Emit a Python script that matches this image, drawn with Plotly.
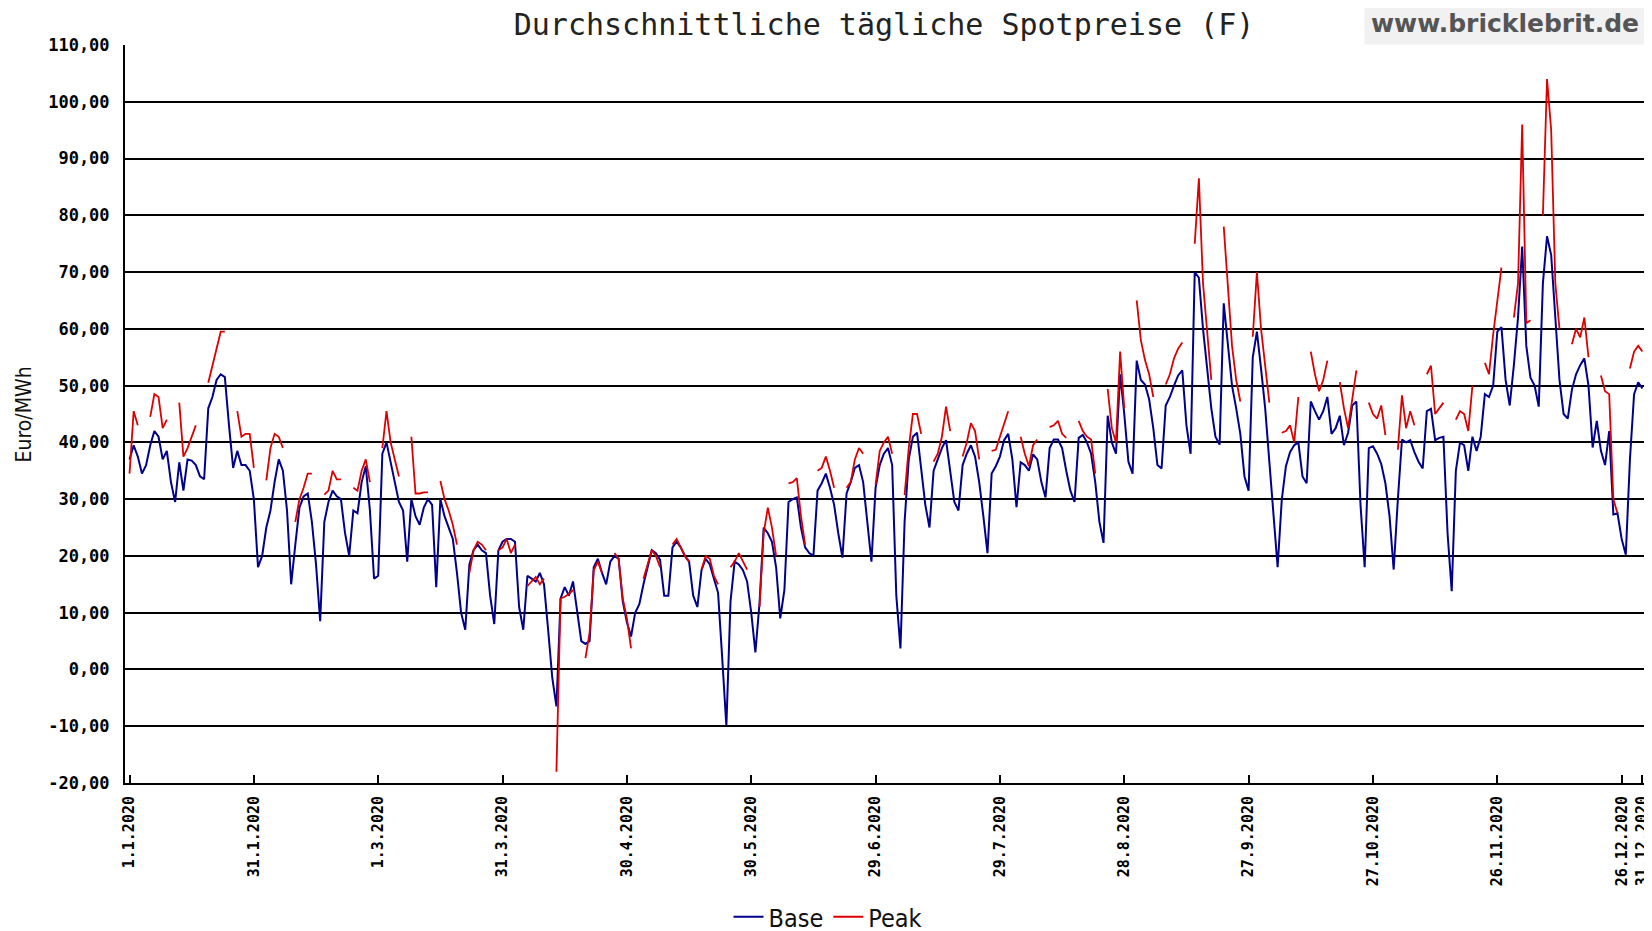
import plotly.graph_objects as go

# daily averages 2020, Euro/MWh (France)
# Base = all days, Peak = weekdays only (None = no value)
base_jan = [37, 39.5, 37.5, 34.5, 36, 39.5, 42, 41, 37, 38.5, 33, 29.5, 36.5, 31.5, 37, 36.8, 36, 34, 33.5, 46,
            48, 51, 52, 51.5, 43, 35.5, 38.5, 36, 36, 35, 30]
base_feb = [18, 20, 25, 28, 33, 37, 35, 28, 15, 22, 28.5, 30.5, 31, 26, 18.5, 8.5, 26, 29.5, 31.5, 30.5,
            30, 24, 20, 28, 27.5, 33, 35.8, 28, 16]
base_mar = [16.5, 38, 40, 36.5, 32.5, 29.5, 28, 19, 30, 27, 25.5, 28.5, 30, 29, 14.5, 30, 27, 25, 23, 17,
            10, 7, 18.5, 21, 22, 21, 20.5, 13, 8, 21, 22.5]
base_apr = [23, 23, 22.5, 11, 7, 16.5, 16, 15.5, 17, 15, 7, -1.5, -6.5, 12.5, 14.5, 13, 15.5, 10, 5, 4.5,
            5, 18, 19.5, 17, 15, 19, 20, 19.5, 12, 8.3]
base_may = [5.8, 10, 11.5, 15, 18, 21, 20.5, 19.3, 13, 13, 21.5, 22.5, 21.5, 20, 19, 13, 11, 17.5, 19.5, 18.5,
            16, 13.5, 2, -10, 12, 19, 18.5, 17.5, 15.5, 10, 3]
base_jun = [11.7, 25, 24, 22.5, 18, 9, 14, 29.5, 30, 30.3, 25, 21.5, 20.5, 20, 31.5, 32.8, 34.5, 32, 29, 24,
            19.7, 31, 33, 35.5, 36, 33, 26, 19, 32, 36]
base_jul = [38, 39, 36, 13, 3.7, 26, 37, 41, 41.7, 35.8, 29, 25, 35, 37, 39, 40.4, 34.5, 29.5, 28, 36,
            38, 39.5, 37.5, 33, 27, 20.5, 34.5, 35.8, 37.5, 40.4, 41.5]
base_aug = [37, 28.6, 36.5, 36, 35, 37.9, 37, 33, 30.3, 39, 40.5, 40.5, 39, 35, 31.5, 29.5, 40.8, 41.3, 40, 38,
            33, 26, 22.3, 44.7, 40, 38, 52, 45, 36.6, 34.5, 54.4]
base_sep = [51, 50.2, 47.6, 42.5, 36, 35.4, 46.5, 48, 50, 51.8, 52.7, 43, 38, 70, 69, 60, 53, 46, 41, 39.6,
            64.5, 57, 50, 46, 41.5, 34, 31.5, 55, 59.5, 53]
base_oct = [46, 36.6, 26.6, 18, 29.9, 35.8, 38.3, 39.5, 40, 34, 32.8, 47.2, 45.5, 44, 45.5, 48, 41.5, 42.5, 44.7, 39.5,
            41.7, 46.5, 47.2, 29, 18, 39, 39.3, 38, 36.2, 32.8, 27]
base_nov = [17.6, 29.9, 40.5, 40, 40.4, 38.3, 36.6, 35.4, 45.5, 45.9, 40.4, 40.8, 41, 24, 13.8, 35, 40, 39.5, 35, 41,
            38.5, 41, 48.5, 48, 50, 59.5, 60.3, 51, 46.5, 53.6]
base_dec = [62, 74.5, 57, 51.4, 50, 46.3, 68, 76.3, 73, 62, 51, 45, 44.2, 49.3, 52, 53.6, 54.8, 50, 39.1, 43.8,
            38.5, 36, 42, 27.3, 27.5, 23, 20.2, 37, 48.5, 50.6, 49.5]

N = None
peak_jan = [34.5, 45.5, 43, N, N, 44.5, 48.5, 48, 42.5, 44, N, N, 47, 37.5, 39, 41, 43, N, N, 50.5,
            53.5, 56.5, 59.5, 59.5, N, N, 45.5, 41, 41.5, 41.5, 35.5]
peak_feb = [N, N, 33.3, 39, 41.5, 41, 39, N, N, 26, 30, 32, 34.5, 34.5, N, N, 30.8, 31.5, 35, 33.5,
            33.5, N, N, 32, 31.5, 35, 37, 33, N]
peak_mar = [N, 39, 45.5, 40, 37, 34, N, N, 41, 31, 31, 31.2, 31.2, N, N, 33.2, 30, 28, 25.5, 22,
            N, N, 17, 21, 22.5, 22, 21, N, N, 21, 21.5]
peak_apr = [23, 20.5, 22, N, N, 14.7, 15.5, 16.3, 15, 16, N, N, -18, 12.5, 12.8, 13.3, 14, N, N, 2,
            6.5, 17.5, 19, 17, N, N, 20.5, 19.5, 12.5, 9]
peak_may = [3.7, N, N, 16, 18.5, 21, 20, 18, N, N, 22, 23, 21.5, 20, 19, N, N, 17.6, 20, 19.5,
            16.5, 15, N, N, 18, 19, 20.5, 19, 17.6, N, N]
peak_jun = [11, 24, 28.5, 25, 20, N, N, 32.8, 33, 33.7, 27, 22, N, N, 35, 35.5, 37.5, 35, 32, N,
            N, 32, 33, 37, 39, 38, N, N, 32.5, 38.5]
peak_jul = [40, 41, 38, N, N, 30.7, 39, 45, 45, 41.5, N, N, 36.6, 38, 41, 46.3, 42, N, N, 37.5,
            40, 43.4, 42, 37, N, N, 38.5, 38.7, 41, 43.4, 45.5]
peak_aug = [N, N, 41, 38, 35.8, 39.5, 40.5, N, N, 42.7, 43, 43.8, 41.5, 40.8, N, N, 43.8, 42, 41, 40.5,
            34.5, N, N, 49.4, 42.5, 40, 56, 46, N, N, 65]
peak_sep = [58, 54.5, 52, 48, N, N, 50.2, 52, 54.8, 56.5, 57.6, N, N, 75, 86.5, 68, 59, 51, N, N,
            78, 67, 57, 51, 47.2, N, N, 58.6, 70, 60]
peak_oct = [53, 47, N, N, 41.7, 42, 43, 40, 48, N, N, 56, 52, 49, 51, 54.4, N, N, 50.6, 46,
            42.5, 48, 52.7, N, N, 47, 45, 44.2, 46.5, 41.3, N]
peak_nov = [N, 38.7, 48.3, 42.5, 45.5, 43, N, N, 52, 53.5, 45, 45.9, 47, N, N, 44, 45.5, 45, 42, 50,
            N, N, 54, 52, 59, 65, 70.8, N, N, 62]
peak_dec = [68, 96, 61, 61.5, N, N, 80, 104, 95, 68, 60, N, N, 57.3, 60, 58.5, 62, 55, N, N,
            51.8, 49, 48.5, 30, 27.5, N, N, 53, 56, 57, 56]

base = (base_jan + base_feb + base_mar + base_apr + base_may + base_jun
        + base_jul + base_aug + base_sep + base_oct + base_nov + base_dec)
peak = (peak_jan + peak_feb + peak_mar + peak_apr + peak_may + peak_jun
        + peak_jul + peak_aug + peak_sep + peak_oct + peak_nov + peak_dec)
days = list(range(len(base)))

x_tickvals = [0, 30, 60, 90, 120, 150, 180, 210, 240, 270, 300, 330, 360, 365]
x_ticktext = ["1.1.2020", "31.1.2020", "1.3.2020", "31.3.2020", "30.4.2020", "30.5.2020", "29.6.2020",
              "29.7.2020", "28.8.2020", "27.9.2020", "27.10.2020", "26.11.2020", "26.12.2020", "31.12.2020"]
y_tickvals = [-20, -10, 0, 10, 20, 30, 40, 50, 60, 70, 80, 90, 100, 110]
y_ticktext = ["%d,00" % v for v in y_tickvals]

mono = "DejaVu Sans Mono, Liberation Mono, monospace"
narrow = "Liberation Sans Narrow, DejaVu Sans Condensed, Arial Narrow, sans-serif"

# the page body has an 8px margin, so the figure is 8px smaller than the window
W, H = 1644, 923

fig = go.Figure()
fig.add_trace(go.Scatter(x=days, y=base, mode='lines', name='Base',
                         line=dict(color='#00008f', width=2), hoverinfo='x+y'))
fig.add_trace(go.Scatter(x=days, y=peak, mode='lines', name='Peak', connectgaps=False,
                         line=dict(color='#dd0000', width=1.8), hoverinfo='x+y'))

fig.update_layout(
    width=W, height=H, autosize=False,
    margin=dict(l=117, r=3, t=37, b=148, autoexpand=False),
    paper_bgcolor='white', plot_bgcolor='white',
    title=dict(text="Durchschnittliche tägliche Spotpreise (F)", x=876 / W, xref='container',
               y=1 - 16 / H, yref='container', yanchor='middle', xanchor='center',
               font=dict(family=mono, size=30, color='#222222')),
    showlegend=True,
    legend=dict(orientation='h', xref='container', yref='container',
                x=820 / W, xanchor='center', y=1 - 909 / H, yanchor='middle',
                font=dict(family=narrow, size=25, color='#111111'), itemwidth=30,
                bgcolor='rgba(0,0,0,0)'),
)

fig.update_xaxes(range=[-1.09, 366.6], tickvals=x_tickvals, ticktext=x_ticktext, tickangle=-90,
                 ticks='inside', ticklen=8, tickwidth=2, tickcolor='black', automargin=False,
                 showgrid=False, zeroline=False, showline=True, linecolor='black', linewidth=2,
                 tickfont=dict(family=mono, size=15, color='black', weight='bold'),
                 ticklabelstandoff=5, ticklabeloverflow='allow')
fig.update_yaxes(range=[-20, 110], tickvals=y_tickvals, ticktext=y_ticktext, automargin=False,
                 showgrid=True, gridcolor='black', gridwidth=1.5, zeroline=False,
                 showline=True, linecolor='black', linewidth=2, ticks='',
                 tickfont=dict(family=mono, size=17, color='black', weight='bold'),
                 ticklabelstandoff=10)

# y axis title and site label
fig.add_annotation(text="Euro/MWh", textangle=-90, xref='paper', yref='paper',
                   x=-0.066, y=0.5, xanchor='center', yanchor='middle', showarrow=False,
                   font=dict(family=narrow, size=21, color='#111111'))
fig.add_annotation(text="<b>www.bricklebrit.de</b>", xref='paper', yref='paper',
                   x=(1364 - 125) / 1524, y=(783 - 24) / 738, xanchor='left', yanchor='middle',
                   showarrow=False, bgcolor='#f1f1f1', borderpad=6,
                   font=dict(family="DejaVu Sans, Verdana, sans-serif", size=25, color='#555555'))

fig.write_html("out.html")
